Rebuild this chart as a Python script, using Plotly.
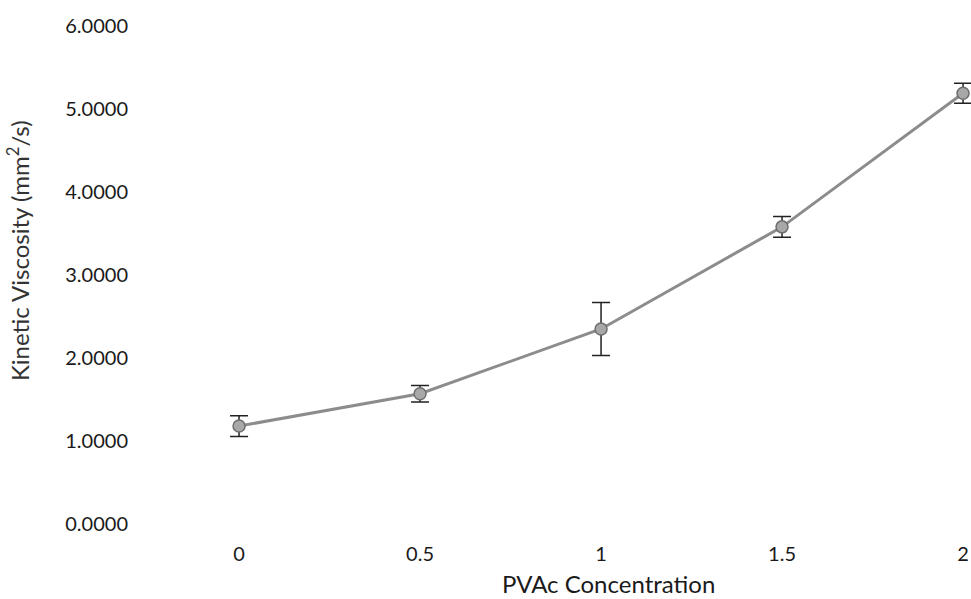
import plotly.graph_objects as go

concentration = [0, 0.5, 1, 1.5, 2]
viscosity = [1.18, 1.57, 2.35, 3.58, 5.19]
error = [0.125, 0.10, 0.32, 0.125, 0.12]

x_ticks = [0, 0.5, 1, 1.5, 2]
x_tick_labels = ["0", "0.5", "1", "1.5", "2"]
y_ticks = [0, 1, 2, 3, 4, 5, 6]
y_tick_labels = ["0.0000", "1.0000", "2.0000", "3.0000", "4.0000", "5.0000", "6.0000"]

font_family = "Lato, 'Open Sans', sans-serif"

fig = go.Figure()
fig.add_trace(go.Scatter(
    x=concentration,
    y=viscosity,
    mode="lines+markers",
    line=dict(color="#8c8c8c", width=3),
    marker=dict(size=12, color="#a8a8a8", line=dict(color="#6e6e6e", width=1.5)),
    error_y=dict(type="data", array=error, visible=True, color="#222222", thickness=1.5, width=9),
    cliponaxis=False,
    showlegend=False,
))

fig.update_layout(
    width=971,
    height=599,
    margin=dict(l=129, r=0, t=26, b=75),
    paper_bgcolor="white",
    plot_bgcolor="white",
    font=dict(family=font_family, size=20, color="#1a1a1a"),
    xaxis=dict(
        range=[-0.304, 2.022],
        tickvals=x_ticks,
        ticktext=x_tick_labels,
        showgrid=False,
        zeroline=False,
        showline=False,
        ticks="",
        automargin=False,
        ticklabelstandoff=16,
    ),
    yaxis=dict(
        range=[0, 6],
        tickvals=y_ticks,
        ticktext=y_tick_labels,
        showgrid=False,
        zeroline=False,
        showline=False,
        ticks="",
        automargin=False,
    ),
    annotations=[
        dict(
            text="Kinetic Viscosity (mm<sup>2</sup>/s)",
            textangle=-90,
            xref="paper", yref="paper",
            x=-0.1318, y=0.548,
            xanchor="center", yanchor="middle",
            showarrow=False,
            font=dict(size=24, color="#333333"),
        ),
        dict(
            text="PVAc Concentration",
            xref="x", yref="paper",
            x=1.02, y=-0.1185,
            xanchor="center", yanchor="middle",
            showarrow=False,
            font=dict(size=24, color="#1a1a1a"),
        ),
    ],
)

fig.write_html(
    "out.html",
    config={"displayModeBar": False},
    post_script="document.body.style.margin='0';document.body.style.overflow='hidden';",
)
